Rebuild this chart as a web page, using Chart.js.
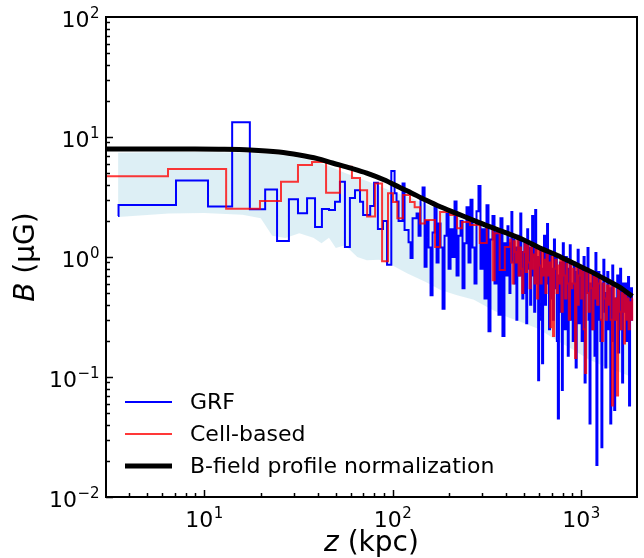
<!DOCTYPE html>
<html>
<head>
<meta charset="utf-8">
<script src="https://cdn.jsdelivr.net/npm/chart.js@4.4.1/dist/chart.umd.min.js"></script>
<style>
    html, body { margin: 0; background: #fff; }
    canvas { display: block; }
</style>
</head>
<body>
<canvas id="grafica" width="644" height="558"></canvas>
<script>
// GRF (pasos)
const zGRF = [3.5, 3.52, 7.1, 10.5, 14.1, 17.5, 21.1, 24.4, 28.2, 31.5,
    35.2, 38.8, 42.2, 46.0, 49.5, 52.6, 55.9, 59.4, 63.2, 67.2,
    69.8, 76.1, 79.8, 83.6, 89.0, 93.5, 98.5, 102.5, 105, 107.6,
    113, 115.8, 121.6, 124.6, 127.7, 134.1, 137.4, 140.8, 144.3, 147.9,
    151.5, 155.3, 159.1, 163, 167, 171.2, 175.4, 179.7, 184.2, 188.7,
    193.4, 198.2, 203.1, 208.1, 213.2, 218.5, 223.9, 229.4, 235, 240.8,
    246.8, 252.9, 259.1, 265.5, 272.1, 278.8, 285.7, 292.7, 300, 307.4,
    315, 322.8, 330.7, 338.9, 347.3, 355.8, 364.6, 373.6, 382.8, 392.3,
    402, 407, 412, 417, 422, 427, 432, 437, 443, 448,
    454, 459, 465, 470, 476, 482, 488, 494, 500, 506,
    512, 518, 524, 531, 537, 544, 550, 557, 564, 571,
    578, 585, 592, 599, 606, 614, 621, 629, 636, 644,
    652, 660, 668, 676, 684, 692, 701, 709, 718, 727,
    735, 744, 753, 763, 772, 781, 791, 800, 810, 820,
    830, 840, 850, 860, 871, 881, 892, 903, 914, 925,
    936, 948, 959, 971, 983, 995, 1007, 1019, 1031, 1044,
    1057, 1069, 1082, 1095, 1109, 1122, 1136, 1150, 1164, 1178,
    1192, 1206, 1221, 1236, 1251, 1266, 1282, 1297, 1313, 1329,
    1345, 1361, 1378, 1395, 1411, 1429, 1446, 1464, 1481, 1499,
    1517, 1536, 1555, 1573, 1592, 1612, 1631, 1651, 1671, 1692,
    1712, 1733, 1754, 1775, 1797, 1819, 1841, 1863, 1885];
const bGRF = [2.2, 2.71, 4.33, 2.63, 13.25, 2.5, 3.66, 1.36, 3.03, 2.31,
    3.08, 1.78, 2.51, 2.46, 2.89, 4.24, 1.21, 3.1, 3.6, 2.89,
    2.24, 2.66, 4.16, 1.71, 2.0, 0.86, 5.2, 3.4, 2.9, 2.0,
    4.1, 1.68, 1.33, 0.98, 2.1, 2.3, 1.5, 3.0, 3.8, 0.83,
    2.0, 1.2, 0.48, 1.6, 2.7, 0.9, 1.9, 1.2, 0.37, 1.5,
    2.3, 0.8, 1.7, 1.0, 2.9, 0.7, 1.5, 2.0, 0.55, 1.3,
    2.6, 0.9, 3.0, 1.2, 0.6, 2.4, 3.9, 0.8, 1.7, 0.45,
    2.7, 0.24, 1.4, 2.2, 0.6, 1.6, 0.33, 2.1, 0.22, 1.3,
    0.7, 1.8, 1.1, 0.5, 1.3, 2.37, 0.9, 1.4, 0.6, 1.2,
    0.3, 1.0, 1.5, 0.7, 2.3, 1.1, 0.45, 0.9, 1.3, 0.5,
    0.28, 1.7, 0.8, 1.2, 0.4, 0.7, 2.2, 1.0, 0.35, 2.46,
    0.6, 1.0, 0.094, 0.5, 1.2, 0.3, 0.13, 0.8, 1.5, 0.4,
    0.9, 1.88, 0.6, 0.25, 1.1, 0.45, 0.8, 0.3, 1.4, 0.55,
    1.0, 0.2, 0.045, 0.7, 0.9, 0.35, 0.078, 1.3, 0.5, 0.25,
    1.0, 0.45, 0.15, 0.8, 1.25, 0.3, 0.6, 0.2, 0.9, 0.4,
    0.12, 0.75, 1.15, 0.28, 0.55, 0.8, 0.2, 0.45, 1.0, 0.09,
    0.5, 0.8, 1.19, 0.3, 0.041, 0.6, 0.25, 0.7, 0.4, 0.15,
    1.08, 0.0185, 0.5, 0.75, 0.3, 0.2, 0.026, 0.6, 0.95, 0.35,
    0.12, 0.5, 0.75, 0.25, 0.55, 0.041, 0.4, 0.85, 0.2, 0.053,
    0.45, 0.3, 0.7, 0.16, 0.5, 0.8, 0.25, 0.09, 0.6, 0.35,
    0.6, 0.2, 0.45, 0.68, 0.058, 0.35, 0.55, 0.3, 0.3];

// Cell-based (pasos)
const zCeldas = [3.0, 6.44, 13.1, 19.8, 25.6, 31.5, 37.4, 44.4, 52.6, 60.9,
    67.2, 73.3, 80.8, 88, 94.6, 100.6, 106, 113.6, 123.8, 131,
    140, 148.5, 168, 178.7, 201.7, 220, 233.8, 257.6, 290, 316,
    340, 348, 370, 394,
    420, 426, 433, 439, 446, 452, 459, 466, 473, 480,
    487, 494, 502, 509, 517, 525, 533, 541, 549, 557,
    566, 574, 583, 592, 600, 609, 618, 628, 637, 647,
    656, 666, 676, 686, 698, 710, 720, 731, 742, 753,
    764, 776, 787, 799, 811, 823, 836, 848, 861, 874,
    887, 900, 914, 929, 944, 958, 972, 987, 1002, 1017,
    1032, 1049, 1064, 1080, 1096, 1113, 1130, 1147, 1164, 1181,
    1199, 1217, 1235, 1254, 1273, 1292, 1311, 1331, 1351, 1371,
    1392, 1413, 1434, 1459, 1480, 1502, 1525, 1548, 1571, 1595,
    1619, 1643, 1668, 1693, 1710, 1735, 1761, 1787, 1814, 1841,
    1868, 1885];
const bCeldas = [4.7, 5.4, 2.53, 2.93, 4.24, 5.84, 6.2, 3.43, 5.65, 4.55,
    3.6, 2.17, 4.1, 0.92, 3.4, 2.87, 2.1, 3.28, 2.87, 2.6,
    1.9, 2.03, 1.21, 2.37, 2.24, 1.74, 1.96, 1.85, 1.31, 1.78,
    0.64, 1.58, 0.78, 1.21,
    1.4, 0.9, 0.6, 1.35, 1.1, 0.9, 1.45, 0.7, 1.2, 0.8,
    0.5, 1.1, 1.3, 0.75, 1.25, 0.9, 0.55, 1.2, 0.8, 1.05,
    0.6, 1.2, 0.45, 1.15, 0.85, 0.6, 1.1, 0.7, 0.95, 0.5,
    1.05, 0.7, 0.9, 0.26, 1.0, 0.22, 0.8, 0.95, 0.5, 0.85,
    0.6, 0.98, 0.35, 0.92, 0.7, 0.45, 0.88, 0.6, 0.3, 0.85,
    0.55, 0.8, 0.6, 0.144, 0.82, 0.4, 0.7, 0.8, 0.45, 0.75,
    0.25, 0.108, 0.75, 0.5, 0.35, 0.72, 0.55, 0.25, 0.68, 0.45,
    0.68, 0.4, 0.6, 0.64, 0.3, 0.2, 0.6, 0.45, 0.3, 0.58,
    0.4, 0.58, 0.3, 0.058, 0.56, 0.3, 0.45, 0.07, 0.53, 0.35,
    0.25, 0.5, 0.35, 0.19, 0.48, 0.3, 0.45, 0.25, 0.42, 0.3,
    0.45, 0.45];

// perfil de normalizacion
const zPerfil = [3, 5, 8, 12, 17.5, 25, 32, 40, 48, 60,
    73, 90, 110, 120, 150, 179, 220, 267, 330, 405,
    500, 605, 750, 907, 1100, 1374, 1600, 1870];
const bPerfil = [7.95, 7.95, 7.93, 7.9, 7.8, 7.5, 7.08, 6.6, 6.07, 5.5,
    5.0, 4.4, 3.78, 3.55, 2.98, 2.62, 2.3, 2.03, 1.78, 1.58,
    1.38, 1.19, 1.03, 0.89, 0.77, 0.64, 0.56, 0.47];

// banda sombreada
const zBanda = [3.5, 6.5, 10, 16, 20, 23, 27, 32, 38, 42,
    46, 50, 56, 65, 73, 85, 100, 120, 150, 180,
    220, 270, 330, 400, 500, 600, 750, 900, 1100, 1370,
    1600, 1850];
const bBandaInf = [2.15, 2.3, 2.33, 2.25, 2.1, 1.5, 1.44, 1.58, 1.45, 1.3,
    1.45, 1.19, 1.25, 1.0, 0.94, 0.95, 0.85, 0.73, 0.62, 0.53,
    0.48, 0.44, 0.37, 0.32, 0.28, 0.25, 0.2, 0.17, 0.14, 0.12,
    0.11, 0.1];
const bBandaSup = [7.4, 7.5, 7.5, 7.4, 7.3, 7.2, 7.0, 6.7, 6.3, 6.0,
    5.7, 5.4, 5.0, 4.6, 4.3, 3.9, 3.5, 3.2, 2.75, 2.45,
    2.15, 1.9, 1.7, 1.5, 1.32, 1.15, 1.0, 0.88, 0.75, 0.62,
    0.55, 0.47];

const ticksZ = [10, 100, 1000];
const etiquetasZ = ['1', '2', '3'];
const ticksB = [0.01, 0.1, 1, 10, 100];
const etiquetasB = ['\u22122', '\u22121', '0', '1', '2'];

const FUENTE = '"DejaVu Sans", sans-serif';

function puntos(xs, ys) {
    return xs.map((x, i) => ({ x: x, y: ys[i] }));
}

// 10 con exponente, alineado a la derecha o centrado
function dibujarPotencia(ctx, exp, x, yBase, alinear) {
    ctx.font = '22px ' + FUENTE;
    const w1 = ctx.measureText('10').width;
    ctx.font = '15px ' + FUENTE;
    const w2 = ctx.measureText(exp).width;
    const x0 = alinear === 'right' ? x - w1 - w2 : x - (w1 + w2) / 2;
    ctx.textAlign = 'left';
    ctx.textBaseline = 'alphabetic';
    ctx.font = '22px ' + FUENTE;
    ctx.fillText('10', x0, yBase);
    ctx.font = '15px ' + FUENTE;
    ctx.fillText(exp, x0 + w1 + 0.5, yBase - 9);
}

const marcoEjes = {
    id: 'marcoEjes',
    afterDraw(chart) {
        const { ctx, chartArea: a, scales: { x, y } } = chart;
        ctx.save();
        ctx.fillStyle = '#000';
        ctx.strokeStyle = '#000';

        // marcas hacia dentro
        ctx.lineWidth = 1.5;
        for (let d = -2; d <= 1; d++) {
            for (let m = 1; m <= 9; m++) {
                const v = m * Math.pow(10, d);
                const py = Math.round(y.getPixelForValue(v)) + 0.5;
                const largo = m === 1 ? 7 : 4;
                ctx.beginPath();
                ctx.moveTo(a.left, py);
                ctx.lineTo(a.left + largo, py);
                ctx.stroke();
            }
        }
        for (let d = 0; d <= 3; d++) {
            for (let m = 1; m <= 9; m++) {
                const v = m * Math.pow(10, d);
                if (v < x.min || v > x.max) continue;
                const px = Math.round(x.getPixelForValue(v)) + 0.5;
                const largo = m === 1 ? 7 : 4;
                ctx.beginPath();
                ctx.moveTo(px, a.bottom);
                ctx.lineTo(px, a.bottom - largo);
                ctx.stroke();
            }
        }

        // marco
        ctx.lineWidth = 2;
        ctx.strokeRect(a.left, a.top, a.right - a.left, a.bottom - a.top);

        // etiquetas
        ticksB.forEach((v, i) => {
            dibujarPotencia(ctx, etiquetasB[i], a.left - 7, y.getPixelForValue(v) + 10, 'right');
        });
        ticksZ.forEach((v, i) => {
            dibujarPotencia(ctx, etiquetasZ[i], x.getPixelForValue(v), a.bottom + 30, 'center');
        });

        // titulos de ejes
        ctx.textBaseline = 'alphabetic';
        ctx.textAlign = 'left';
        ctx.font = 'italic 28px ' + FUENTE;
        const wz = ctx.measureText('z').width;
        ctx.font = '28px ' + FUENTE;
        const wr = ctx.measureText(' (kpc)').width;
        const xc = (a.left + a.right) / 2;
        ctx.font = 'italic 28px ' + FUENTE;
        ctx.fillText('z', xc - (wz + wr) / 2, 551);
        ctx.font = '28px ' + FUENTE;
        ctx.fillText(' (kpc)', xc - (wz + wr) / 2 + wz, 551);

        ctx.save();
        ctx.translate(34, (a.top + a.bottom) / 2);
        ctx.rotate(-Math.PI / 2);
        ctx.font = 'italic 28px ' + FUENTE;
        const wb = ctx.measureText('B').width;
        ctx.font = '28px ' + FUENTE;
        const wg = ctx.measureText(' (\u03bcG)').width;
        ctx.font = 'italic 28px ' + FUENTE;
        ctx.fillText('B', -(wb + wg) / 2, 0);
        ctx.font = '28px ' + FUENTE;
        ctx.fillText(' (\u03bcG)', -(wb + wg) / 2 + wb, 0);
        ctx.restore();

        // leyenda
        const filas = chart.data.datasets.filter(ds => ds.label);
        filas.forEach((ds, i) => {
            const yy = 402 + i * 32;
            ctx.strokeStyle = ds.borderColor;
            ctx.lineWidth = ds.borderWidth;
            ctx.beginPath();
            ctx.moveTo(125, yy);
            ctx.lineTo(172, yy);
            ctx.stroke();
            ctx.fillStyle = '#000';
            ctx.font = '22px ' + FUENTE;
            ctx.textBaseline = 'middle';
            ctx.fillText(ds.label, 190, yy + 1);
        });
        ctx.restore();
    }
};

new Chart(document.getElementById('grafica').getContext('2d'), {
    type: 'line',
    data: {
        datasets: [
            {
                label: 'GRF',
                data: puntos(zGRF, bGRF),
                borderColor: '#0000ff',
                borderWidth: 2,
                stepped: 'before',
                pointRadius: 0,
                fill: false,
                order: 3
            },
            {
                label: 'Cell-based',
                data: puntos(zCeldas, bCeldas),
                borderColor: 'rgba(255, 0, 0, 0.78)',
                borderWidth: 2,
                stepped: 'before',
                pointRadius: 0,
                fill: false,
                order: 2
            },
            {
                label: 'B-field profile normalization',
                data: puntos(zPerfil, bPerfil),
                borderColor: '#000',
                borderWidth: 5,
                cubicInterpolationMode: 'monotone',
                pointRadius: 0,
                fill: false,
                order: 1
            },
            {
                data: puntos(zBanda, bBandaInf),
                borderWidth: 0,
                borderColor: 'rgba(0,0,0,0)',
                pointRadius: 0,
                fill: false,
                order: 5
            },
            {
                data: puntos(zBanda, bBandaSup),
                borderWidth: 0,
                borderColor: 'rgba(0,0,0,0)',
                backgroundColor: 'rgba(173, 216, 230, 0.42)',
                pointRadius: 0,
                fill: '-1',
                order: 4
            }
        ]
    },
    options: {
        responsive: false,
        animation: false,
        devicePixelRatio: 1,
        layout: { padding: { top: 17, right: 7, left: 0, bottom: 0 } },
        plugins: {
            legend: { display: false },
            tooltip: { enabled: false }
        },
        scales: {
            x: {
                type: 'logarithmic',
                min: 3.02,
                max: 1980,
                grid: { display: false },
                border: { display: false },
                ticks: { display: false },
                afterFit(s) { s.height = 61; }
            },
            y: {
                type: 'logarithmic',
                min: 0.01,
                max: 100,
                grid: { display: false },
                border: { display: false },
                ticks: { display: false },
                afterFit(s) { s.width = 106; }
            }
        }
    },
    plugins: [marcoEjes]
});
</script>
</body>
</html>
